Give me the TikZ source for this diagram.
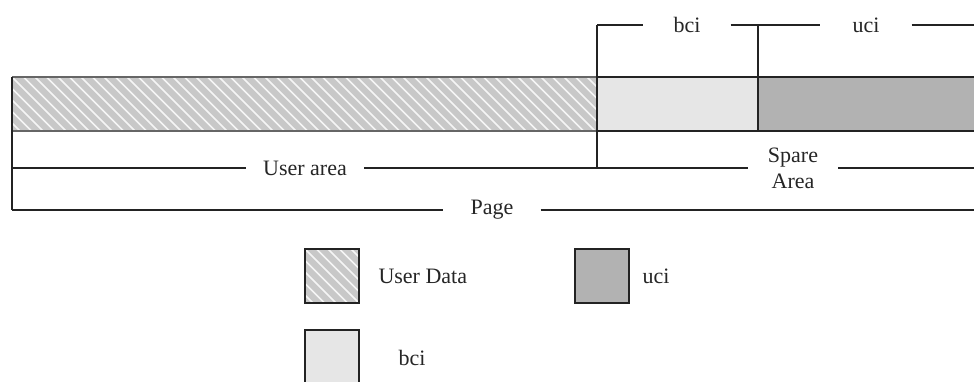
\documentclass[tikz,border=0pt]{standalone}
\usepackage{fontspec}
\setmainfont{Liberation Serif}
\definecolor{hatchgray}{RGB}{200,200,200}
\definecolor{bcigray}{RGB}{230,230,230}
\definecolor{ucigray}{RGB}{178,178,178}
\definecolor{linegray}{RGB}{35,35,35}
\tikzset{
  lbl/.style={font=\fontsize{22}{24}\selectfont, text=black!85, inner ysep=0pt},
  ln/.style={draw=linegray, line width=1.3pt},
  thick ln/.style={draw=linegray, line width=2pt},
  boxline/.style={draw=linegray, line width=1.1pt},
}
\newcommand{\hatchbox}[4]{%
  \begin{scope}
    \clip (#1,#2) rectangle (#3,#4);
    \fill[hatchgray] (#1,#2) rectangle (#3,#4);
    \foreach \k in {-60,...,60} {
      \draw[white!92!gray, line width=1.5pt] ({#1+11.5*\k},#2) -- ++({#4-#2},{#4-#2});
    }
  \end{scope}%
}
\begin{document}
\begin{tikzpicture}[x=1pt,y=-1pt]
\useasboundingbox[fill=white] (0,0) rectangle (974,381);
% bar
\hatchbox{12}{77}{597}{131}
\fill[bcigray] (597,77) rectangle (758,131);
\fill[ucigray] (758,77) rectangle (974,131);
\draw[boxline, draw=black!60] (12,77) -- (597,77) (12,131) -- (597,131);
\draw[boxline] (597,77) -- (974,77) (597,131) -- (974,131);
\draw[boxline] (12,77) -- (12,131);
\draw[boxline] (758,77) -- (758,131);
% coordinates
\coordinate (L1) at (12,131);
\coordinate (L2) at (12,168);
\coordinate (L3) at (12,210);
\coordinate (S1) at (597,25);
\coordinate (S2) at (597,168);
\coordinate (B1) at (758,25);
\coordinate (B2) at (758,77);
\coordinate (R1) at (974,25);
\coordinate (R2) at (974,168);
\coordinate (R3) at (974,210);
% labels
\node[lbl, inner xsep=30pt] (bcitop) at (687,25) {bci};
\node[lbl, inner xsep=32pt] (ucitop) at (866,25) {uci};
\node[lbl, inner xsep=17pt] (userarea) at (305,168) {User area};
\node[lbl, inner xsep=20pt, align=center] (spare) at (793,168) {Spare\\[2pt]Area};
\node[lbl, inner xsep=27pt] (page) at (492,210) {Page};
% lines
\draw[thick ln] (L1) -- (L3);
\draw[ln] (L2) -- (userarea.west);
\draw[ln] (userarea.east) -- (S2);
\draw[ln] (S2) -- (spare.west);
\draw[ln] (spare.east) -- (R2);
\draw[ln] (S1) -- (S2);
\draw[ln] (S1) -- (bcitop.west);
\draw[ln] (bcitop.east) -- (B1);
\draw[ln] (B1) -- (ucitop.west);
\draw[ln] (ucitop.east) -- (R1);
\draw[ln] (B1) -- (B2);
\draw[thick ln] (L3) -- (page.west);
\draw[thick ln] (page.east) -- (R3);
% legend
\hatchbox{305}{249}{359}{303}
\draw[boxline] (305,249) rectangle (359,303);
\node[lbl, anchor=west] (lud) at (375,276) {User Data};
\fill[ucigray] (575,249) rectangle (629,303);
\draw[boxline] (575,249) rectangle (629,303);
\node[lbl, anchor=west] (luci) at (639,276) {uci};
\fill[bcigray] (305,330) rectangle (359,390);
\draw[boxline] (305,390) -- (305,330) -- (359,330) -- (359,390);
\node[lbl, anchor=west] (lbci) at (395,358) {bci};
\end{tikzpicture}
\end{document}
